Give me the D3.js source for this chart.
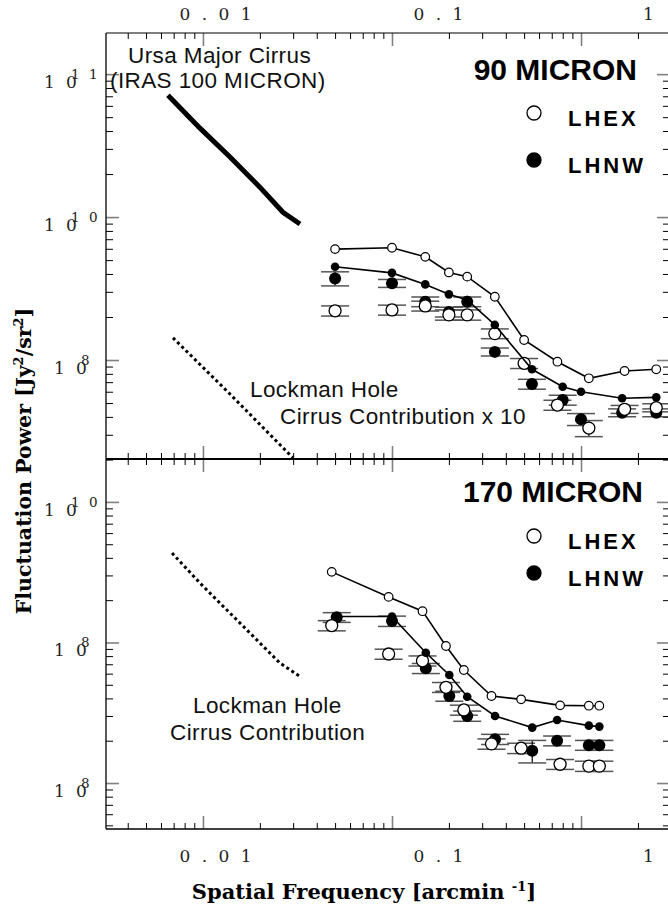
<!doctype html>
<html>
<head>
<meta charset="utf-8">
<title>fluctuation power</title>
<style>
  body { margin: 0; background: #fff; }
  svg { display: block; }
  .sans { font-family: "Liberation Sans", Arial, sans-serif; }
  .serif { font-family: "DejaVu Serif", serif; }
</style>
</head>
<body>
<div id="chart"></div>
<script src="https://cdnjs.cloudflare.com/ajax/libs/d3/7.8.5/d3.min.js"></script>
<script>
  // x axis (arcmin^-1)
  const xMajor = [0.01, 0.1, 1];
  const xMajorText = ['0 . 0 1', '0 . 1', '1'];

  // 90 micron panel
  const hexX90 = [0.05, 0.1, 0.15, 0.2, 0.25, 0.35, 0.5, 0.75, 1.1, 1.7, 2.5];
  const hexLine90 = [5.97e9, 6.10e9, 5.27e9, 4.10e9, 3.83e9, 2.77e9, 1.38e9, 9.73e8, 7.45e8, 8.38e8, 8.61e8];
  const hexPts90 = [2.21e9, 2.24e9, 2.39e9, 2.07e9, 2.07e9, 1.53e9, 9.48e8, 4.84e8, 3.34e8, 4.52e8, 4.64e8];
  const hexErr90 = [1.8e8, 1.8e8, 1.9e8, 1.7e8, 1.7e8, 1.2e8, 7.6e7, 3.9e7, 4.3e7, 2.9e7, 3.0e7];
  const nwX90 = [0.05, 0.1, 0.15, 0.2, 0.25, 0.35, 0.55, 0.8, 1.0, 1.65, 2.5];
  const nwLine90 = [4.49e9, 4.07e9, 3.38e9, 2.88e9, 2.63e9, 1.76e9, 8.61e8, 6.50e8, 6.00e8, 5.40e8, 5.48e8];
  const nwPts90 = [3.72e9, 3.44e9, 2.56e9, 2.17e9, 2.56e9, 1.14e9, 6.79e8, 5.25e8, 3.85e8, 4.28e8, 4.28e8];
  const nwErr90 = [4.2e8, 2.2e8, 2.0e8, 1.7e8, 2.0e8, 7.3e7, 5.4e7, 4.2e7, 3.7e7, 2.7e7, 2.7e7];
  const ursaX = [0.00653, 0.00964, 0.0139, 0.02, 0.0265, 0.0326];
  const ursaY = [7.13e10, 4.19e10, 2.63e10, 1.62e10, 1.08e10, 8.94e9];
  const lhCirrusX90 = [0.00694, 0.0139, 0.0299];
  const lhCirrusY90 = [1.43e9, 5.78e8, 2.07e8];
  const yMajor90 = [1e9, 1e10, 1e11];
  const ySup90 = ['8', '10', '11'];

  // 170 micron panel
  const hexX170 = [0.048, 0.096, 0.145, 0.193, 0.24, 0.336, 0.482, 0.775, 1.1, 1.25];
  const hexLine170 = [3.18e9, 2.11e9, 1.67e9, 9.44e8, 6.37e8, 4.16e8, 3.94e8, 3.57e8, 3.55e8, 3.55e8];
  const hexPts170 = [1.32e9, 8.28e8, 7.41e8, 4.80e8, 3.31e8, 1.90e8, 1.77e8, 1.36e8, 1.32e8, 1.32e8];
  const hexErr170 = [1.1e8, 6.8e7, 6.1e7, 3.9e7, 2.7e7, 1.6e7, 1.5e7, 1.1e7, 1.1e7, 1.1e7];
  const nwX170 = [0.051, 0.1, 0.151, 0.201, 0.25, 0.351, 0.552, 0.747, 1.1, 1.25];
  const nwLine170 = [1.53e9, 1.53e9, 8.45e8, 5.87e8, 4.11e8, 3.0e8, 2.48e8, 2.81e8, 2.56e8, 2.52e8];
  const nwPts170 = [1.51e9, 1.42e9, 6.55e8, 4.16e8, 3.0e8, 2.05e8, 1.70e8, 2.0e8, 1.86e8, 1.86e8];
  const nwErr170 = [1.2e8, 1.2e8, 5.4e7, 3.4e7, 2.5e7, 1.7e7, 3.1e7, 1.6e7, 1.5e7, 1.5e7];
  const lhCirrusX170 = [0.00686, 0.00964, 0.0255, 0.033];
  const lhCirrusY170 = [4.33e9, 2.65e9, 7.15e8, 5.67e8];
  const yMajor170 = [1e8, 1e9, 1e10];
  const ySup170 = ['8', '8', '10'];

  const W = 668, H = 917;
  const left = 106, right = 669;
  const majorGray = '#808080';

  const svg = d3.select('#chart').append('svg')
    .attr('width', W).attr('height', H);

  const x = d3.scaleLog().domain([0.00307, 2.92]).range([left, right]);
  const xMinor = x.ticks().filter(v => !isDecade(v));

  function isDecade(v) {
    const l = Math.log10(v);
    return Math.abs(l - Math.round(l)) < 1e-9;
  }

  const zip = (a, b) => a.map((v, i) => [v, b[i]]);

  function styleTicks(sel, color, width) {
    sel.select('.domain').remove();
    sel.selectAll('line').attr('stroke', color).attr('stroke-width', width);
    sel.selectAll('text').remove();
  }

  function drawPanel(p) {
    const y = d3.scaleLog().domain(p.domain).range([p.bottom, p.top]);
    const g = svg.append('g');
    const clipId = 'clip' + p.id;
    svg.append('clipPath').attr('id', clipId).append('rect')
      .attr('x', left).attr('y', p.top)
      .attr('width', right - left).attr('height', p.bottom - p.top);

    const yMinor = y.ticks().filter(v => !isDecade(v));

    // ticks, all pointing inward
    g.append('g').attr('transform', `translate(${left},0)`)
      .call(d3.axisLeft(y).tickValues(yMinor).tickSize(-7).tickFormat(''))
      .call(styleTicks, '#000', 1);
    g.append('g').attr('transform', `translate(${left},0)`)
      .call(d3.axisLeft(y).tickValues(p.yMajor).tickSize(-13).tickFormat(''))
      .call(styleTicks, majorGray, 1.6);
    g.append('g').attr('transform', `translate(${right},0)`)
      .call(d3.axisRight(y).tickValues(yMinor).tickSize(-6).tickFormat(''))
      .call(styleTicks, '#000', 1);
    g.append('g').attr('transform', `translate(${right},0)`)
      .call(d3.axisRight(y).tickValues(p.yMajor).tickSize(-12).tickFormat(''))
      .call(styleTicks, majorGray, 1.6);
    g.append('g').attr('transform', `translate(0,${p.top})`)
      .call(d3.axisTop(x).tickValues(xMinor).tickSize(-6).tickFormat(''))
      .call(styleTicks, '#000', 1);
    g.append('g').attr('transform', `translate(0,${p.top})`)
      .call(d3.axisTop(x).tickValues(xMajor).tickSize(-13).tickFormat(''))
      .call(styleTicks, majorGray, 1.6);
    g.append('g').attr('transform', `translate(0,${p.bottom})`)
      .call(d3.axisBottom(x).tickValues(xMinor).tickSize(-6).tickFormat(''))
      .call(styleTicks, '#000', 1);
    g.append('g').attr('transform', `translate(0,${p.bottom})`)
      .call(d3.axisBottom(x).tickValues(xMajor).tickSize(-13).tickFormat(''))
      .call(styleTicks, majorGray, 1.6);

    // y tick labels: "1 0" with the exponent set over the 0
    p.yMajor.forEach((v, i) => {
      const sup = p.ySup[i];
      const x0 = left - 42 - 10 * sup.length;
      const yy = y(v);
      const t = g.append('text').attr('class', 'serif').attr('font-size', 17).attr('fill', '#222');
      t.append('tspan').attr('x', x0).attr('y', yy + 14).text('1');
      t.append('tspan').attr('x', x0 + 22).attr('y', yy + 14).text('0');
      sup.split('').forEach((c, k) => {
        t.append('tspan').attr('x', x0 + 27 + 18 * k).attr('y', yy + 5)
          .attr('font-size', 13.5).text(c);
      });
    });

    const plot = g.append('g').attr('clip-path', `url(#${clipId})`);
    const line = d3.line().x(d => x(d[0])).y(d => y(d[1]));

    // cirrus curves
    if (p.ursa) {
      plot.append('path').datum(p.ursa).attr('d', line)
        .attr('fill', 'none').attr('stroke', '#000').attr('stroke-width', 5);
    }
    plot.append('path').datum(p.cirrus).attr('d', line)
      .attr('fill', 'none').attr('stroke', '#000').attr('stroke-width', 3)
      .attr('stroke-dasharray', '3,3');

    // error bars
    const errs = p.hexPts.concat(p.nwPts);
    errs.forEach(d => {
      const cx = x(d[0]), y1 = y(d[1] + d[2]), y2 = y(d[1] - d[2]);
      plot.append('line').attr('x1', cx).attr('x2', cx).attr('y1', y1).attr('y2', y2)
        .attr('stroke', '#000').attr('stroke-width', 1.2);
      [y1, y2].forEach(cy => {
        plot.append('line').attr('x1', cx - 14).attr('x2', cx + 14).attr('y1', cy).attr('y2', cy)
          .attr('stroke', '#555').attr('stroke-width', 1.5);
      });
    });

    plot.selectAll(null).data(p.nwPts).join('circle')
      .attr('cx', d => x(d[0])).attr('cy', d => y(d[1])).attr('r', 6)
      .attr('fill', '#000');
    plot.selectAll(null).data(p.hexPts).join('circle')
      .attr('cx', d => x(d[0])).attr('cy', d => y(d[1])).attr('r', 6)
      .attr('fill', '#fff').attr('stroke', '#000').attr('stroke-width', 1.3);

    // connected curves
    [p.nwLine, p.hexLine].forEach(ser => {
      plot.append('path').datum(ser).attr('d', line)
        .attr('fill', 'none').attr('stroke', '#000').attr('stroke-width', 1.6);
    });
    plot.selectAll(null).data(p.nwLine).join('circle')
      .attr('cx', d => x(d[0])).attr('cy', d => y(d[1])).attr('r', 4.3)
      .attr('fill', '#000');
    plot.selectAll(null).data(p.hexLine).join('circle')
      .attr('cx', d => x(d[0])).attr('cy', d => y(d[1])).attr('r', 4.3)
      .attr('fill', '#fff').attr('stroke', '#000').attr('stroke-width', 1.2);

    // labels
    g.append('text').attr('class', 'sans').attr('x', p.titleX).attr('y', p.titleY)
      .attr('text-anchor', 'end').attr('font-size', 30).attr('font-weight', 'bold')
      .text(p.title);
    p.legend.forEach(l => {
      g.append('circle').attr('cx', 534).attr('cy', l.cy).attr('r', 7)
        .attr('fill', l.fill).attr('stroke', '#000').attr('stroke-width', 1.3);
      g.append('text').attr('class', 'sans').attr('x', 568).attr('y', l.cy + 13)
        .attr('font-size', 22).attr('font-weight', 'bold').attr('letter-spacing', 3)
        .text(l.name);
    });
    p.notes.forEach(n => {
      g.append('text').attr('class', 'sans').attr('x', n.x).attr('y', n.y)
        .attr('font-size', 22.5).attr('letter-spacing', 0.4).attr('fill', '#111')
        .text(n.text);
    });
  }

  drawPanel({
    id: 90, top: 33, bottom: 459, domain: [2.03e8, 1.94e11],
    yMajor: yMajor90, ySup: ySup90,
    hexLine: zip(hexX90, hexLine90),
    nwLine: zip(nwX90, nwLine90),
    hexPts: hexX90.map((v, i) => [v, hexPts90[i], hexErr90[i]]),
    nwPts: nwX90.map((v, i) => [v, nwPts90[i], nwErr90[i]]),
    ursa: zip(ursaX, ursaY),
    cirrus: zip(lhCirrusX90, lhCirrusY90),
    title: '90 MICRON', titleX: 637, titleY: 80,
    legend: [{ cy: 113, fill: '#fff', name: 'LHEX' }, { cy: 160, fill: '#000', name: 'LHNW' }],
    notes: [
      { x: 128, y: 63, text: 'Ursa Major Cirrus' },
      { x: 110, y: 88, text: '(IRAS 100 MICRON)' },
      { x: 250, y: 397, text: 'Lockman Hole' },
      { x: 280, y: 424, text: 'Cirrus Contribution x 10' }
    ]
  });

  drawPanel({
    id: 170, top: 459, bottom: 829, domain: [4.71e7, 2.02e10],
    yMajor: yMajor170, ySup: ySup170,
    hexLine: zip(hexX170, hexLine170),
    nwLine: zip(nwX170, nwLine170),
    hexPts: hexX170.map((v, i) => [v, hexPts170[i], hexErr170[i]]),
    nwPts: nwX170.map((v, i) => [v, nwPts170[i], nwErr170[i]]),
    ursa: null,
    cirrus: zip(lhCirrusX170, lhCirrusY170),
    title: '170 MICRON', titleX: 643, titleY: 502,
    legend: [{ cy: 536, fill: '#fff', name: 'LHEX' }, { cy: 573, fill: '#000', name: 'LHNW' }],
    notes: [
      { x: 193, y: 713, text: 'Lockman Hole' },
      { x: 170, y: 740, text: 'Cirrus Contribution' }
    ]
  });

  // frame
  const frame = svg.append('g').attr('stroke', '#000');
  frame.append('line').attr('x1', left).attr('x2', left).attr('y1', 33).attr('y2', 829).attr('stroke-width', 1.3);
  frame.append('line').attr('x1', left).attr('x2', right).attr('y1', 33).attr('y2', 33).attr('stroke-width', 1.2);
  frame.append('line').attr('x1', left).attr('x2', right).attr('y1', 459).attr('y2', 459).attr('stroke-width', 2);
  frame.append('line').attr('x1', left).attr('x2', right).attr('y1', 829).attr('y2', 829).attr('stroke-width', 1.6);

  // x tick labels, shifted right of their ticks as in the original
  const xLabelShift = [14, 48, 69];
  [20, 862].forEach(yy => {
    xMajor.forEach((v, i) => {
      svg.append('text').attr('class', 'serif').attr('x', x(v) + xLabelShift[i]).attr('y', yy)
        .attr('text-anchor', 'middle').attr('font-size', 17).attr('letter-spacing', 3)
        .attr('fill', '#222').text(xMajorText[i]);
    });
  });

  // axis titles
  const yt = svg.append('text').attr('class', 'serif')
    .attr('transform', 'translate(31,461) rotate(-90)')
    .attr('text-anchor', 'middle').attr('font-size', 20.5).attr('font-weight', 'bold');
  yt.append('tspan').text('Fluctuation Power [Jy');
  yt.append('tspan').attr('dy', -8).attr('font-size', 13).text('2');
  yt.append('tspan').attr('dy', 8).text('/sr');
  yt.append('tspan').attr('dy', -8).attr('font-size', 13).text('2');
  yt.append('tspan').attr('dy', 8).text(']');

  const xt = svg.append('text').attr('class', 'serif')
    .attr('x', 364).attr('y', 899)
    .attr('text-anchor', 'middle').attr('font-size', 21).attr('font-weight', 'bold');
  xt.append('tspan').text('Spatial Frequency [arcmin ');
  xt.append('tspan').attr('dy', -8).attr('font-size', 13).text('-1');
  xt.append('tspan').attr('dy', 8).text(']');
</script>
</body>
</html>
